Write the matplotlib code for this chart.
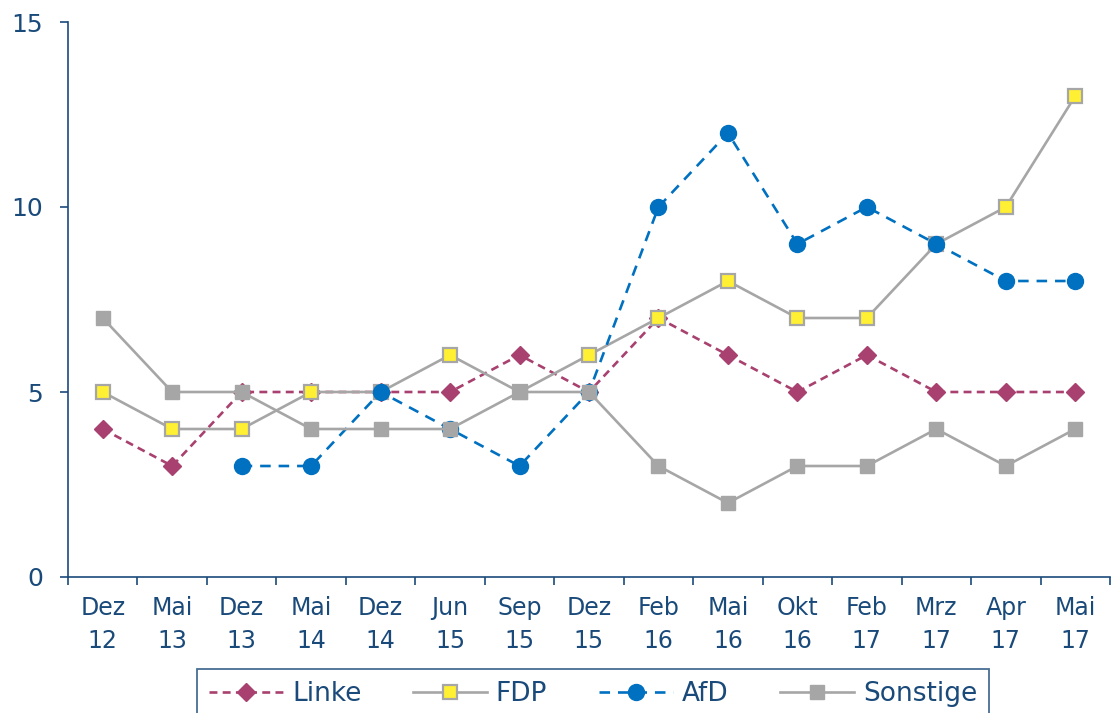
import matplotlib.pyplot as plt
import numpy as np
from matplotlib.ticker import FixedLocator

categories = ["Dez\n12", "Mai\n13", "Dez\n13", "Mai\n14", "Dez\n14", "Jun\n15", "Sep\n15", "Dez\n15",
              "Feb\n16", "Mai\n16", "Okt\n16", "Feb\n17", "Mrz\n17", "Apr\n17", "Mai\n17"]
linke = [4, 3, 5, 5, 5, 5, 6, 5, 7, 6, 5, 6, 5, 5, 5]
fdp = [5, 4, 4, 5, 5, 6, 5, 6, 7, 8, 7, 7, 9, 10, 13]
afd = [np.nan, np.nan, 3, 3, 5, 4, 3, 5, 10, 12, 9, 10, 9, 8, 8]
sonstige = [7, 5, 5, 4, 4, 4, 5, 5, 3, 2, 3, 3, 4, 3, 4]

navy = "#1A4A7A"
grey = "#A6A6A6"
plt.rcParams['font.family'] = ['DejaVu Sans']

fig = plt.figure(figsize=(11.12, 7.13), dpi=100)
ax = fig.add_axes([68 / 1112, 1 - 577 / 713, (1110 - 68) / 1112, (577 - 22) / 713])

x = np.arange(len(categories))
ax.plot(x, linke, color="#A8416F", lw=1.9, dashes=(3, 2), marker="D", ms=9,
        mfc="#A8416F", mec="#A8416F", label="Linke")
ax.plot(x, fdp, color=grey, lw=1.9, marker="s", ms=10, mfc="#FFF033", mec=grey, mew=1.6, label="FDP")
ax.plot(x, afd, color="#0070C0", lw=1.9, dashes=(4, 3), marker="o", ms=11.5,
        mfc="#0070C0", mec="#0070C0", label="AfD")
ax.plot(x, sonstige, color=grey, lw=1.9, marker="s", ms=10.5, mfc=grey, mec=grey, label="Sonstige")

ax.set_xlim(-0.5, len(categories) - 0.5)
ax.set_ylim(0, 15)
ax.set_yticks([0, 5, 10, 15])
ax.set_xticks(x)
ax.set_xticklabels(categories, linespacing=1.45)
ax.xaxis.set_minor_locator(FixedLocator(np.arange(-0.5, len(categories), 1)))

for s in ["top", "right"]:
    ax.spines[s].set_visible(False)
for s in ["left", "bottom"]:
    ax.spines[s].set_color(navy)
    ax.spines[s].set_linewidth(1.2)

ax.tick_params(axis="x", which="major", length=0, pad=14, labelsize=17, labelcolor=navy)
ax.tick_params(axis="x", which="minor", length=6, width=1.2, color=navy)
ax.tick_params(axis="y", length=6, width=1.2, color=navy, pad=12, labelsize=18, labelcolor=navy)

leg = fig.legend(loc="upper center", bbox_to_anchor=(593 / 1112, 1 - 669 / 713), ncol=4,
                 frameon=True, fancybox=False, fontsize=19, handlelength=2.8, handletextpad=0.35,
                 columnspacing=1.95, borderpad=0.45, borderaxespad=0)
leg.get_frame().set_edgecolor(navy)
leg.get_frame().set_linewidth(1.3)
for t in leg.get_texts():
    t.set_color(navy)

fig.savefig("out.png", dpi=100)
